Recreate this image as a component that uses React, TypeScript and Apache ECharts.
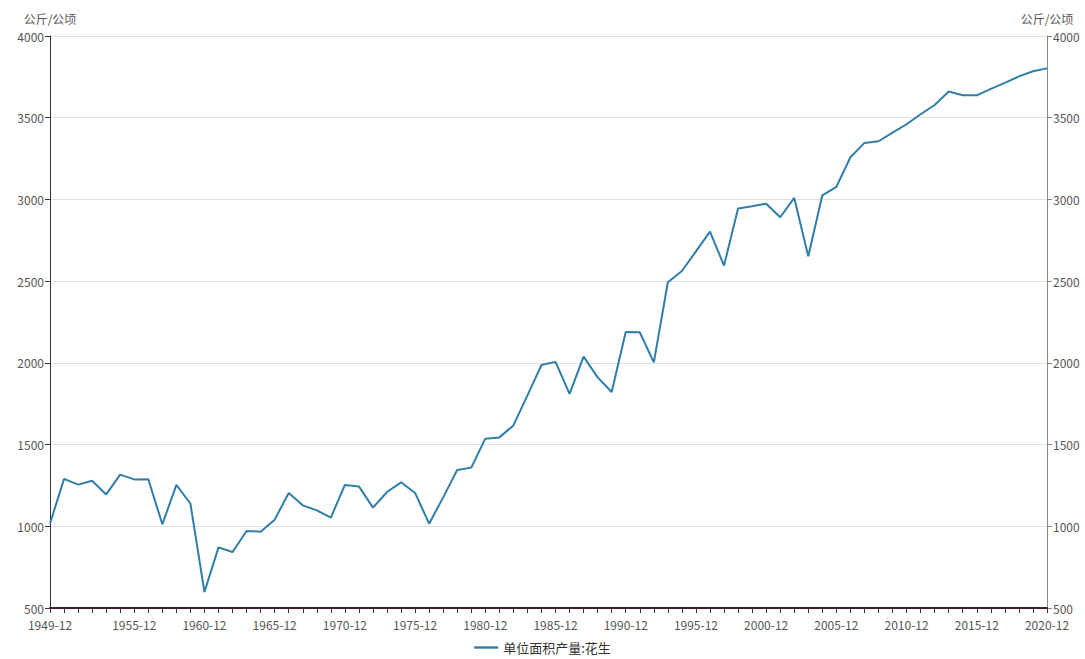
import React, { useEffect, useRef } from "react";
import * as echarts from "echarts";

const years: string[] = [];
for (let y = 1949; y <= 2020; y++) years.push(`${y}-12`);

const peanutYield: number[] = [
  1017, 1290, 1255, 1279, 1195, 1316, 1287, 1288, 1012, 1253,
  1138, 598, 871, 843, 971, 967, 1040, 1204, 1128, 1097,
  1053, 1253, 1244, 1114, 1210, 1269, 1204, 1016, 1177, 1345,
  1359, 1536, 1544, 1617, 1801, 1987, 2006, 1810, 2038, 1911,
  1822, 2189, 2187, 2003, 2493, 2562, 2682, 2803, 2595, 2944,
  2958, 2974, 2891, 3009, 2652, 3025, 3077, 3258, 3346, 3356,
  3409, 3460, 3521, 3578, 3660, 3637, 3637, 3676, 3713, 3753,
  3784, 3802,
];

const seriesName = "单位面积产量:花生";
const unitName = "公斤/公顷";

export default function App() {
  const ref = useRef<HTMLDivElement>(null);
  useEffect(() => {
    if (!ref.current) return;
    const chart = echarts.init(ref.current, null, { renderer: "svg" });
    const font = "'Noto Sans CJK SC', 'Noto Sans', sans-serif";
    const yBase = {
      type: "value",
      min: 500,
      max: 4000,
      interval: 500,
      name: unitName,
      nameGap: 12,
      nameTextStyle: { color: "#555", fontSize: 12, fontFamily: font, align: "center" },
      axisLabel: {
        color: "#555",
        fontSize: 12,
        lineHeight: 12,
        fontFamily: font,
        margin: 6,
        formatter: (v: number) => String(v),
      },
      axisTick: { show: true, length: 5 },
    };
    chart.setOption({
      animation: false,
      textStyle: { fontFamily: font },
      grid: { left: 50, right: 38, top: 36, bottom: 51, containLabel: false },
      legend: {
        bottom: 0,
        left: "center",
        icon: "path://M0,0 L30,0 L30,3 L0,3 Z",
        itemWidth: 24,
        itemHeight: 3,
        textStyle: { color: "#333", fontSize: 13, fontFamily: font },
        data: [seriesName],
      },
      xAxis: {
        type: "category",
        data: years,
        boundaryGap: false,
        axisLine: { lineStyle: { color: "#4a1e1e", width: 2 } },
        axisTick: { show: true, interval: 0, length: 5, lineStyle: { color: "#333" } },
        axisLabel: {
          color: "#555",
          fontSize: 12,
          lineHeight: 12,
          fontFamily: font,
          margin: 10,
          interval: (i: number) => i === 0 || (i >= 6 && (i - 1) % 5 === 0),
        },
      },
      yAxis: [
        {
          ...yBase,
          position: "left",
          axisLine: { show: true, lineStyle: { color: "#333" } },
          splitLine: { show: true, lineStyle: { color: "#e0e0e0" } },
        },
        {
          ...yBase,
          position: "right",
          axisLine: { show: true, lineStyle: { color: "#888" } },
          splitLine: { show: false },
        },
      ],
      series: [
        {
          name: seriesName,
          type: "line",
          data: peanutYield,
          yAxisIndex: 0,
          showSymbol: false,
          symbol: "none",
          lineStyle: { color: "#2e7ea8", width: 2 },
          itemStyle: { color: "#2e7ea8" },
        },
      ],
    });
    return () => chart.dispose();
  }, []);
  return <div ref={ref} style={{ width: 1085, height: 659, position: "absolute", left: 0, top: 0 }} />;
}
